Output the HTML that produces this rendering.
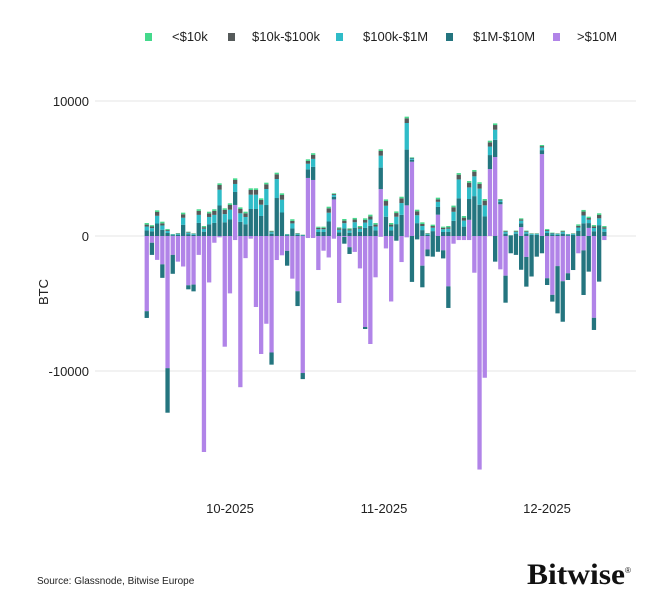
<!DOCTYPE html>
<html><head><meta charset="utf-8"><style>
html,body{margin:0;padding:0;background:#fff;}
body{width:671px;height:604px;overflow:hidden;font-family:"Liberation Sans",sans-serif;}
</style></head><body>
<svg id="s" width="671" height="604" xmlns="http://www.w3.org/2000/svg" font-family="Liberation Sans, sans-serif">
<rect width="671" height="604" fill="#fff"/>
<g font-size="13" fill="#222">
<rect x="145" y="33" width="7" height="8" fill="#44d98c"/><text x="172" y="41">&lt;$10k</text>
<rect x="228" y="33" width="7" height="8" fill="#555a5a"/><text x="252" y="41">$10k-$100k</text>
<rect x="336" y="33" width="7" height="8" fill="#2fbcc8"/><text x="363" y="41">$100k-$1M</text>
<rect x="446" y="33" width="7" height="8" fill="#24757f"/><text x="473" y="41">$1M-$10M</text>
<rect x="553" y="33" width="7" height="8" fill="#b184e8"/><text x="577" y="41">&gt;$10M</text>
</g>
<g stroke="#e6e6e6" stroke-width="1">
<line x1="95" y1="101" x2="636" y2="101"/><line x1="95" y1="236" x2="636" y2="236"/><line x1="95" y1="371" x2="636" y2="371"/>
</g>
<g font-size="13" fill="#222" text-anchor="end">
<text x="89" y="106">10000</text><text x="89" y="241">0</text><text x="89" y="376">-10000</text>
</g>
<text transform="translate(48,292) rotate(-90)" font-size="13" fill="#222" text-anchor="middle">BTC</text>
<g font-size="13" fill="#222" text-anchor="middle">
<text x="230" y="513">10-2025</text><text x="384" y="513">11-2025</text><text x="547" y="513">12-2025</text>
</g>
<text x="37" y="584" font-size="10" fill="#222">Source: Glassnode, Bitwise Europe</text>
<text x="527" y="584" font-size="30" font-weight="bold" font-family="Liberation Serif, serif" fill="#111" textLength="98" lengthAdjust="spacingAndGlyphs">Bitwise</text>
<text x="625" y="573" font-size="8" fill="#111">®</text>
<g id="bars"></g>
</svg>
<script>
var D=[[960,0,-6070,500],[800,0,-1400,900],[1900,0,-1770,0],[1060,0,-3100,1000],[520,0,-13090,3300],[150,0,-2800,1400],[220,0,-1900,0],[1730,0,-2260,0],[320,0,-3950,300],[200,0,-4100,500],
[1980,0,-1400,0],[740,0,-16000,0],[1800,0,-3440,0],[1980,0,-500,0],[3900,0,-100,0],[2050,0,-8200,0],[2420,0,-4250,0],[4270,2300,-300,0],[2120,0,-11200,0],[1800,0,-1640,0],
[3530,0,-200,0],[3530,0,-5260,0],[2790,0,-8740,0],[3950,0,-6500,0],[390,0,-9530,900],[4690,0,-1780,0],[3160,0,-1430,0],[150,0,-2200,1100],[1240,0,-3160,0],[220,0,-5190,1100],
[100,0,-10600,450],[5680,4300,-150,0],[6130,4150,-150,0],[690,0,-2520,0],[690,0,-1090,0],[2170,0,-1590,0],[3160,2710,-200,0],[640,0,-4960,0],[1260,0,-570,500],[570,0,-1330,500],
[1340,0,-1180,0],[740,0,-2400,0],[1310,0,-6890,150],[1580,0,-8000,0],[960,0,-3060,0],[6420,3470,-60,0],[2710,0,-920,0],[960,0,-4850,0],[1820,0,-350,350],[2910,0,-1930,0],
[8840,2270,-100,0],[5830,5500,-3400,3400],[1950,0,-250,250],[1010,0,-3800,1600],[220,0,-1500,500],[840,0,-1530,1530],[2840,1580,-1170,1170],[690,0,-1660,600],[740,0,-5330,1600],[2250,0,-570,0],
[4660,0,-300,0],[1480,0,-300,0],[4070,1200,-300,0],[4890,0,-2720,0],[3980,0,-17300,0],[2740,0,-10500,0],[7060,4960,0,0],[8340,5850,-1900,1900],[2740,2350,-2470,0],[400,0,-4940,2000],
[70,0,-1280,1280],[400,0,-1400,1400],[1310,660,-2500,2500],[400,0,-3750,2200],[200,0,-3000,3000],[200,0,-1530,1530],[6740,6070,-1280,1280],[520,0,-3630,500],[250,0,-4860,500],[200,0,-5730,3500],
[400,0,-6350,3000],[150,0,-3260,500],[200,0,-2520,2520],[860,0,-1280,0],[1930,0,-4370,3300],[1430,600,-2640,2640],[810,0,-6960,900],[1680,0,-3380,3380],[740,0,-300,0]];
var C={g:"#44d98c",k:"#555a5a",c:"#2fbcc8",t:"#24757f",p:"#b184e8"};
var s=135/10000,h="";
function r(x,y0,v,c){ if(v<=0)return; var hh=v*s; h+='<rect x="'+x.toFixed(1)+'" y="'+(y0-hh).toFixed(2)+'" width="4.3" height="'+hh.toFixed(2)+'" fill="'+c+'"/>';}
function rn(x,y0,v,c){ if(v<=0)return; h+='<rect x="'+x.toFixed(1)+'" y="'+y0.toFixed(2)+'" width="4.3" height="'+(v*s).toFixed(2)+'" fill="'+c+'"/>';}
D.forEach(function(d,i){
 var x=144.6+5.2*i, y=236;
 var tot=d[0],p=d[1],rest=tot-p;
 var g=Math.min(120,rest*0.12), k=Math.min(350,rest*0.15), c=rest*0.3, t=rest-g-k-c;
 r(x,y,p,C.p); y-=p*s; r(x,y,t,C.t); y-=t*s; r(x,y,c,C.c); y-=c*s; r(x,y,k,C.k); y-=k*s; r(x,y,g,C.g);
 var n=-d[2], nt=d[3], np=n-nt; var yy=236;
 rn(x,yy,np,C.p); yy+=np*s; rn(x,yy,nt,C.t);
});
document.getElementById("bars").innerHTML=h;
</script>
</body></html>
